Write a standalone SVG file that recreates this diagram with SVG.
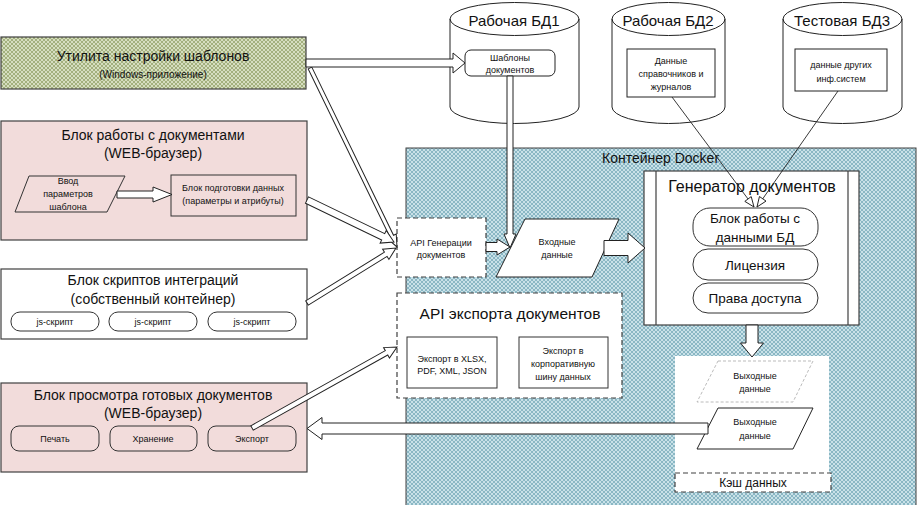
<svg xmlns="http://www.w3.org/2000/svg" width="917" height="505" viewBox="0 0 917 505">
<defs>
<pattern id="hb" width="4" height="4" patternUnits="userSpaceOnUse"><rect width="4" height="4" fill="#c9e1e8"/><path d="M0,0 L4,4 M4,0 L0,4" stroke="#6fa5b5" stroke-width="0.7"/></pattern>
<pattern id="hg" width="4" height="4" patternUnits="userSpaceOnUse"><rect width="4" height="4" fill="#d6dec0"/><path d="M0,0 L4,4 M4,0 L0,4" stroke="#8c9c62" stroke-width="0.7"/></pattern>
<marker id="oh" markerWidth="14" markerHeight="12" refX="11" refY="5" orient="auto" markerUnits="userSpaceOnUse"><path d="M1,1 L11,5 L1,9 Z" fill="#fff" stroke="#222" stroke-width="0.9"/></marker>
<style>
text{font-family:"Liberation Sans",Arial,sans-serif;fill:#111;text-anchor:middle}
.box{stroke:#404040;stroke-width:1.2}
.pink{fill:#f2dcdb}
.w{fill:#fff}
.dash{fill:#fff;stroke:#404040;stroke-width:1.2;stroke-dasharray:5 3}
.ar{fill:#fff;stroke:#222;stroke-width:1}
.t14{font-size:14px}
.t9{font-size:9px}
.t10{font-size:10px}
</style>
</defs>
<rect width="917" height="505" fill="#fff"/>

<g id="docker">
<rect x="406" y="148" width="510" height="360" fill="url(#hb)" stroke="#404040" stroke-width="1"/>
<text x="602" y="163" class="t14" style="text-anchor:start">Контейнер Docker</text>
</g>

<g id="utility">
<rect x="1" y="37" width="305" height="52" fill="url(#hg)" class="box"/>
<text x="153" y="61" class="t14">Утилита настройки шаблонов</text>
<text x="153" y="78" class="t10">(Windows-приложение)</text>
</g>

<g id="docblock">
<rect x="1" y="121" width="306" height="119" class="box pink"/>
<text x="153" y="140" class="t14">Блок работы с документами</text>
<text x="153" y="158" class="t14">(WEB-браузер)</text>
<g id="input-params">
<polygon points="29,176 125,176 107,212 15,212" fill="#f2dcdb" stroke="#333" stroke-width="1"/>
<text x="68" y="184" class="t9">Ввод</text>
<text x="68" y="197" class="t9">параметров</text>
<text x="68" y="210" class="t9">шаблона</text>
</g>
<g id="prep-block">
<rect x="171" y="175" width="125" height="41" fill="#f2dcdb" stroke="#333" stroke-width="1"/>
<text x="233" y="191" class="t9">Блок подготовки данных</text>
<text x="233" y="204" class="t9">(параметры и атрибуты)</text>
</g>
</g>

<g id="scripts">
<rect x="1" y="269" width="306" height="70" class="box w"/>
<text x="153" y="285" class="t14">Блок скриптов интеграций</text>
<text x="153" y="304" class="t14">(собственный контейнер)</text>
<rect x="11" y="312" width="88" height="19" rx="9" class="w" stroke="#333"/>
<rect x="109" y="312" width="88" height="19" rx="9" class="w" stroke="#333"/>
<rect x="208" y="312" width="88" height="19" rx="9" class="w" stroke="#333"/>
<text x="55" y="325" class="t9">js-скрипт</text>
<text x="153" y="325" class="t9">js-скрипт</text>
<text x="252" y="325" class="t9">js-скрипт</text>
</g>

<g id="viewer">
<rect x="1" y="383" width="306" height="89" class="box pink"/>
<text x="153" y="400" class="t14">Блок просмотра готовых документов</text>
<text x="153" y="418" class="t14">(WEB-браузер)</text>
<rect x="11" y="426" width="88" height="25" rx="8" class="pink" stroke="#333"/>
<rect x="110" y="426" width="87" height="25" rx="8" class="pink" stroke="#333"/>
<rect x="208" y="426" width="88" height="25" rx="8" class="pink" stroke="#333"/>
<text x="55" y="442" class="t9">Печать</text>
<text x="153" y="442" class="t9">Хранение</text>
<text x="252" y="442" class="t9">Экспорт</text>
</g>

<g id="db1">
<path d="M450,19 A64.5,16.5 0 0 1 579,19 V107 A64.5,16.5 0 0 1 450,107 Z" class="w" stroke="#222" stroke-width="1"/>
<path d="M450,19 A64.5,16.5 0 0 0 579,19" fill="none" stroke="#222" stroke-width="1"/>
<text x="514" y="26" style="font-size:15px">Рабочая БД1</text>
<rect x="465" y="50" width="90" height="26" rx="6" class="w" stroke="#222"/>
<text x="510" y="61" class="t9">Шаблоны</text>
<text x="510" y="73" class="t9">документов</text>
</g>

<g id="db2">
<path d="M612,19 A56.5,16.5 0 0 1 725,19 V107 A56.5,16.5 0 0 1 612,107 Z" class="w" stroke="#222" stroke-width="1"/>
<path d="M612,19 A56.5,16.5 0 0 0 725,19" fill="none" stroke="#222" stroke-width="1"/>
<text x="668" y="26" style="font-size:15px">Рабочая БД2</text>
<rect x="627" y="49" width="88" height="48" class="w" stroke="#222"/>
<text x="671" y="64" class="t9">Данные</text>
<text x="671" y="77" class="t9">справочников и</text>
<text x="671" y="90" class="t9">журналов</text>
</g>

<g id="db3">
<path d="M783,19 A59.5,16.5 0 0 1 902,19 V107 A59.5,16.5 0 0 1 783,107 Z" class="w" stroke="#222" stroke-width="1"/>
<path d="M783,19 A59.5,16.5 0 0 0 902,19" fill="none" stroke="#222" stroke-width="1"/>
<text x="842" y="26" style="font-size:15px">Тестовая БД3</text>
<rect x="795" y="49" width="92" height="42" class="w" stroke="#222"/>
<text x="841" y="68" class="t9">данные других</text>
<text x="841" y="82" class="t9">инф.систем</text>
</g>

<g id="api-gen">
<rect x="397" y="218" width="89" height="59" class="dash"/>
<text x="441" y="246" class="t9">API Генерации</text>
<text x="441" y="258" class="t9">документов</text>
</g>

<g id="input-data">
<polygon points="525,219 619,219 592,277 496,277" class="w" stroke="#222" stroke-width="1"/>
<text x="557" y="245" class="t9">Входные</text>
<text x="557" y="258" class="t9">данные</text>
</g>

<g id="generator">
<rect x="644" y="171" width="215" height="154" class="w" stroke="#404040" stroke-width="1.2"/>
<path d="M656,171 V325 M848,171 V325" stroke="#404040" stroke-width="1.2"/>
<text x="752" y="192" style="font-size:16px">Генератор документов</text>
<rect x="693" y="208" width="125" height="38" rx="17" class="w" stroke="#333"/>
<text x="755" y="223" style="font-size:13.5px">Блок работы с</text>
<text x="755" y="242" style="font-size:13.5px">данными БД</text>
<rect x="693" y="249" width="125" height="31" rx="15" class="w" stroke="#333"/>
<text x="755" y="270" style="font-size:13.5px">Лицензия</text>
<rect x="693" y="283" width="125" height="30" rx="15" class="w" stroke="#333"/>
<text x="755" y="303" style="font-size:13.5px">Права доступа</text>
</g>

<g id="api-export">
<rect x="397" y="293" width="225" height="105" class="dash"/>
<text x="510" y="319" style="font-size:15.5px">API экспорта документов</text>
<rect x="407" y="337" width="90" height="51" class="w" stroke="#333"/>
<text x="452" y="362" class="t9">Экспорт в XLSX,</text>
<text x="452" y="374" class="t9">PDF, XML, JSON</text>
<rect x="519" y="337" width="89" height="51" class="w" stroke="#333"/>
<text x="563" y="354" class="t9">Экспорт в</text>
<text x="563" y="367" class="t9">корпоративную</text>
<text x="563" y="380" class="t9">шину данных</text>
</g>

<g id="cache">
<rect x="675" y="356" width="154" height="134" fill="#fff"/>
<g id="out-draft">
<polygon points="718,361 813,361 793,402 697,402" fill="#fff" stroke="#aaa" stroke-width="0.8" stroke-dasharray="3 2"/>
<text x="755" y="379" class="t9">Выходные</text>
<text x="755" y="392" class="t9">данные</text>
</g>
<g id="out-data">
<polygon points="718,408 813,408 793,449 697,449" fill="#fff" stroke="#222" stroke-width="1"/>
<text x="755" y="425" class="t9">Выходные</text>
<text x="755" y="439" class="t9">данные</text>
</g>
<rect x="675" y="473" width="156" height="19" class="dash"/>
<text x="753" y="487" style="font-size:12px">Кэш данных</text>
</g>

<g id="connectors">
<path class="ar" transform="translate(117,194.5)" d="M0,-3.5 H36 V-7.5 L55,0 L36,7.5 V3.5 H0 Z"/>
<path class="ar" transform="translate(310,68) rotate(64.08)" d="M0,-2 H187 V-5 L199,0 L187,5 V2 H0 Z"/>
<path class="ar" transform="translate(306,63)" d="M0,-4 H147 V-10 L159,0 L147,10 V4 H0 Z"/>
<path class="ar" transform="translate(307,200) rotate(25.77)" d="M0,-3.5 H84.6 V-7 L96.6,0 L84.6,7 V3.5 H0 Z"/>
<path class="ar" transform="translate(307,303) rotate(-31.72)" d="M0,-2.5 H92.6 V-6 L104.6,0 L92.6,6 V2.5 H0 Z"/>
<path class="ar" transform="translate(252,428) rotate(-29.19)" d="M0,-2.5 H154.1 V-6 L166.1,0 L154.1,6 V2.5 H0 Z"/>
<path class="ar" transform="translate(510,76) rotate(90)" d="M0,-3 H158 V-6 L172,0 L158,6 V3 H0 Z"/>
<path class="ar" transform="translate(486,247)" d="M0,-4.5 H11 V-8 L24,0 L11,8 V4.5 H0 Z"/>
<path class="ar" transform="translate(604,248)" d="M0,-7.5 H24 V-15 L41,0 L24,15 V7.5 H0 Z"/>
<path class="ar" transform="translate(752,325) rotate(90)" d="M0,-6 H18 V-11.5 L32,0 L18,11.5 V6 H0 Z"/>
<path class="ar" transform="translate(708,428.5) rotate(180)" d="M0,-5.5 H386 V-11 L401,0 L386,11 V5.5 H0 Z"/>
<line x1="672" y1="97" x2="754" y2="207" stroke="#222" stroke-width="0.9" marker-end="url(#oh)"/>
<line x1="838" y1="91" x2="757" y2="207" stroke="#222" stroke-width="0.9" marker-end="url(#oh)"/>
</g>
</svg>
